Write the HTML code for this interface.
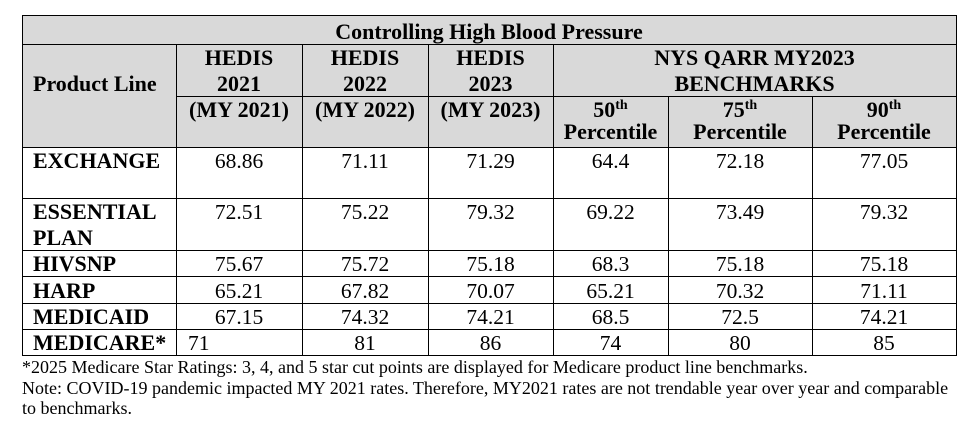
<!DOCTYPE html>
<html>
<head>
<meta charset="utf-8">
<style>
html,body{margin:0;padding:0;}
body{width:970px;height:424px;background:#fff;position:relative;overflow:hidden;font-family:"Liberation Serif","Times New Roman",serif;color:#000;}
.bg{position:absolute;left:22px;top:15px;width:934px;height:132px;background:#d9d9d9;}
.h{position:absolute;height:1px;background:#000;}
.v{position:absolute;width:1px;background:#000;}
.t{position:absolute;font-size:21.5px;line-height:26px;white-space:nowrap;text-align:center;}
.b{font-weight:bold;font-size:22px;}
.l{text-align:left;}
sup{font-size:14px;line-height:0;vertical-align:0;position:relative;top:-8px;}
.fn{position:absolute;left:22px;top:357px;font-size:18px;line-height:20.5px;white-space:nowrap;}
</style>
</head>
<body>
<div class="bg"></div>

<!-- horizontal lines -->
<div class="h" style="left:22px;top:15px;width:935px"></div>
<div class="h" style="left:22px;top:44px;width:935px"></div>
<div class="h" style="left:176px;top:96px;width:781px"></div>
<div class="h" style="left:22px;top:147px;width:935px"></div>
<div class="h" style="left:22px;top:198px;width:935px"></div>
<div class="h" style="left:22px;top:250px;width:935px"></div>
<div class="h" style="left:22px;top:276px;width:935px"></div>
<div class="h" style="left:22px;top:303px;width:935px"></div>
<div class="h" style="left:22px;top:329px;width:935px"></div>
<div class="h" style="left:22px;top:355px;width:935px"></div>

<!-- vertical lines -->
<div class="v" style="left:22px;top:15px;height:341px"></div>
<div class="v" style="left:956px;top:15px;height:341px"></div>
<div class="v" style="left:176px;top:44px;height:312px"></div>
<div class="v" style="left:302px;top:44px;height:312px"></div>
<div class="v" style="left:428px;top:44px;height:312px"></div>
<div class="v" style="left:553px;top:44px;height:312px"></div>
<div class="v" style="left:668px;top:96px;height:260px"></div>
<div class="v" style="left:812px;top:96px;height:260px"></div>

<!-- title -->
<div class="t b" style="left:22px;width:934px;top:19.2px">Controlling High Blood Pressure</div>

<!-- header -->
<div class="t b l" style="left:33px;top:70.9px">Product Line</div>

<div class="t b" style="left:176px;width:126px;top:45.2px">HEDIS<br>2021</div>
<div class="t b" style="left:302px;width:126px;top:45.2px">HEDIS<br>2022</div>
<div class="t b" style="left:428px;width:125px;top:45.2px">HEDIS<br>2023</div>
<div class="t b" style="left:553px;width:403px;top:45.2px">NYS QARR MY2023<br>BENCHMARKS</div>

<div class="t b" style="left:176px;width:126px;top:96.7px">(MY 2021)</div>
<div class="t b" style="left:302px;width:126px;top:96.7px">(MY 2022)</div>
<div class="t b" style="left:428px;width:125px;top:96.7px">(MY 2023)</div>

<div class="t b" style="left:553px;width:115px;top:96.7px">50<sup>th</sup></div>
<div class="t b" style="left:668px;width:144px;top:96.7px">75<sup>th</sup></div>
<div class="t b" style="left:812px;width:144px;top:96.7px">90<sup>th</sup></div>
<div class="t b" style="left:553px;width:115px;top:119.2px">Percentile</div>
<div class="t b" style="left:668px;width:144px;top:119.2px">Percentile</div>
<div class="t b" style="left:812px;width:144px;top:119.2px">Percentile</div>

<!-- EXCHANGE -->
<div class="t b l" style="left:33px;top:147.9px">EXCHANGE</div>
<div class="t" style="left:176px;width:126px;top:147.9px">68.86</div>
<div class="t" style="left:302px;width:126px;top:147.9px">71.11</div>
<div class="t" style="left:428px;width:125px;top:147.9px">71.29</div>
<div class="t" style="left:553px;width:115px;top:147.9px">64.4</div>
<div class="t" style="left:668px;width:144px;top:147.9px">72.18</div>
<div class="t" style="left:812px;width:144px;top:147.9px">77.05</div>

<!-- ESSENTIAL PLAN -->
<div class="t b l" style="left:33px;top:199px;line-height:25.5px">ESSENTIAL<br>PLAN</div>
<div class="t" style="left:176px;width:126px;top:198.9px">72.51</div>
<div class="t" style="left:302px;width:126px;top:198.9px">75.22</div>
<div class="t" style="left:428px;width:125px;top:198.9px">79.32</div>
<div class="t" style="left:553px;width:115px;top:198.9px">69.22</div>
<div class="t" style="left:668px;width:144px;top:198.9px">73.49</div>
<div class="t" style="left:812px;width:144px;top:198.9px">79.32</div>

<!-- HIVSNP -->
<div class="t b l" style="left:33px;top:250.9px">HIVSNP</div>
<div class="t" style="left:176px;width:126px;top:250.9px">75.67</div>
<div class="t" style="left:302px;width:126px;top:250.9px">75.72</div>
<div class="t" style="left:428px;width:125px;top:250.9px">75.18</div>
<div class="t" style="left:553px;width:115px;top:250.9px">68.3</div>
<div class="t" style="left:668px;width:144px;top:250.9px">75.18</div>
<div class="t" style="left:812px;width:144px;top:250.9px">75.18</div>

<!-- HARP -->
<div class="t b l" style="left:33px;top:277.5px">HARP</div>
<div class="t" style="left:176px;width:126px;top:277.5px">65.21</div>
<div class="t" style="left:302px;width:126px;top:277.5px">67.82</div>
<div class="t" style="left:428px;width:125px;top:277.5px">70.07</div>
<div class="t" style="left:553px;width:115px;top:277.5px">65.21</div>
<div class="t" style="left:668px;width:144px;top:277.5px">70.32</div>
<div class="t" style="left:812px;width:144px;top:277.5px">71.11</div>

<!-- MEDICAID -->
<div class="t b l" style="left:33px;top:303.9px">MEDICAID</div>
<div class="t" style="left:176px;width:126px;top:303.9px">67.15</div>
<div class="t" style="left:302px;width:126px;top:303.9px">74.32</div>
<div class="t" style="left:428px;width:125px;top:303.9px">74.21</div>
<div class="t" style="left:553px;width:115px;top:303.9px">68.5</div>
<div class="t" style="left:668px;width:144px;top:303.9px">72.5</div>
<div class="t" style="left:812px;width:144px;top:303.9px">74.21</div>

<!-- MEDICARE -->
<div class="t b l" style="left:33px;top:330.3px">MEDICARE*</div>
<div class="t l" style="left:188px;top:330.3px">71</div>
<div class="t" style="left:302px;width:126px;top:330.3px">81</div>
<div class="t" style="left:428px;width:125px;top:330.3px">86</div>
<div class="t" style="left:553px;width:115px;top:330.3px">74</div>
<div class="t" style="left:668px;width:144px;top:330.3px">80</div>
<div class="t" style="left:812px;width:144px;top:330.3px">85</div>

<!-- footnotes -->
<div class="fn">*2025 Medicare Star Ratings: 3, 4, and 5 star cut points are displayed for Medicare product line benchmarks.<br>Note: COVID-19 pandemic impacted MY 2021 rates. Therefore, MY2021 rates are not trendable year over year and comparable<br>to benchmarks.</div>
</body>
</html>
